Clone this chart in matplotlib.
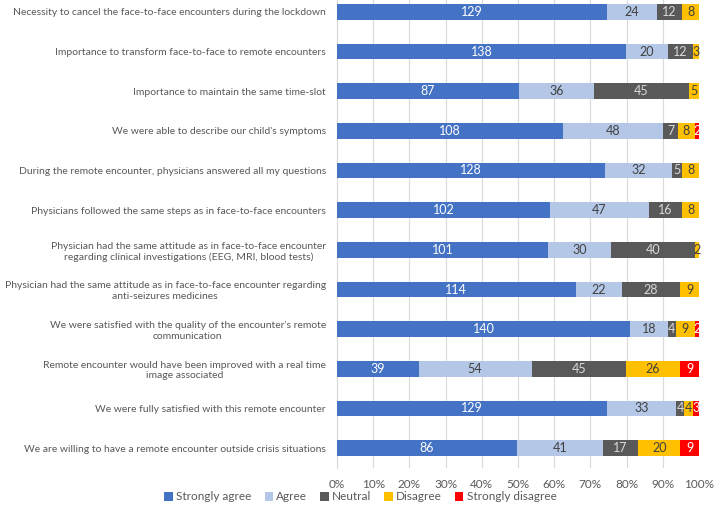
import matplotlib
matplotlib.use('Agg')
import matplotlib.pyplot as plt
import numpy as np

questions = [
    "Necessity to cancel the face-to-face encounters during the lockdown",
    "Importance to transform face-to-face to remote encounters",
    "Importance to maintain the same time-slot",
    "We were able to describe our child's symptoms",
    "During the remote encounter, physicians answered all my questions",
    "Physicians followed the same steps as in face-to-face encounters",
    "Physician had the same attitude as in face-to-face encounter\nregarding clinical investigations (EEG, MRI, blood tests)",
    "Physician had the same attitude as in face-to-face encounter regarding\nanti-seizures medicines",
    "We were satisfied with the quality of the encounter's remote\ncommunication",
    "Remote encounter would have been improved with a real time\nimage associated",
    "We were fully satisfied with this remote encounter",
    "We are willing to have a remote encounter outside crisis situations",
]

strongly_agree    = [129, 138, 87, 108, 128, 102, 101, 114, 140, 39, 129, 86]
agree             = [24, 20, 36, 48, 32, 47, 30, 22, 18, 54, 33, 41]
neutral           = [12, 12, 45, 7, 5, 16, 40, 28, 4, 45, 4, 17]
disagree          = [8, 3, 5, 8, 8, 8, 2, 9, 9, 26, 4, 20]
strongly_disagree = [0, 0, 0, 2, 0, 0, 0, 0, 2, 9, 3, 9]

series_names = ["Strongly agree", "Agree", "Neutral", "Disagree", "Strongly disagree"]
colors = ["#4472C4", "#B4C7E7", "#595959", "#FFC000", "#FF0000"]
label_colors = ["white", "#404040", "#D9D9D9", "#404040", "white"]

plt.rcParams['font.family'] = ['Lato', 'DejaVu Sans']

data = np.array([strongly_agree, agree, neutral, disagree, strongly_disagree], dtype=float)
totals = data.sum(axis=0)
pct = data / totals * 100

fig = plt.figure(figsize=(7.14, 5.16), dpi=100)
ax = fig.add_axes([337 / 714, 48 / 516, 362 / 714, 476 / 516])

y = np.arange(len(questions))
left = np.zeros(len(questions))
for i, name in enumerate(series_names):
    bars = ax.barh(y, pct[i], left=left, height=0.4, color=colors[i], label=name, zorder=3)
    for j, b in enumerate(bars):
        v = int(data[i, j])
        if v == 0:
            continue
        ax.text(left[j] + pct[i, j] / 2, y[j], str(v), ha='center', va='center',
                fontsize=9, color=label_colors[i], zorder=4)
    left += pct[i]

ax.set_ylim(len(questions) - 0.5, -0.5)
ax.set_xlim(0, 100)
ax.set_xticks(np.arange(0, 101, 10))
ax.set_xticklabels([f"{t}%" for t in range(0, 101, 10)])
ax.set_yticks(y)
ax.set_yticklabels(questions, ha='right', multialignment='center')
ax.tick_params(axis='y', length=0, pad=8, labelsize=7.5, labelcolor='#595959')
ax.tick_params(axis='x', length=0, pad=8, labelsize=8.5, labelcolor='#595959')
ax.grid(axis='x', color='#D9D9D9', linewidth=0.8, zorder=0)
for s in ['top', 'right', 'bottom']:
    ax.spines[s].set_visible(False)
ax.spines['left'].set_color('#D9D9D9')

fig.legend(loc='center', bbox_to_anchor=(0.505, 19 / 516), ncol=5, frameon=False,
           fontsize=8.5, labelcolor='#595959', handlelength=0.7, handleheight=0.7,
           handletextpad=0.3, columnspacing=1.1)

fig.savefig('out.png', dpi=100)
